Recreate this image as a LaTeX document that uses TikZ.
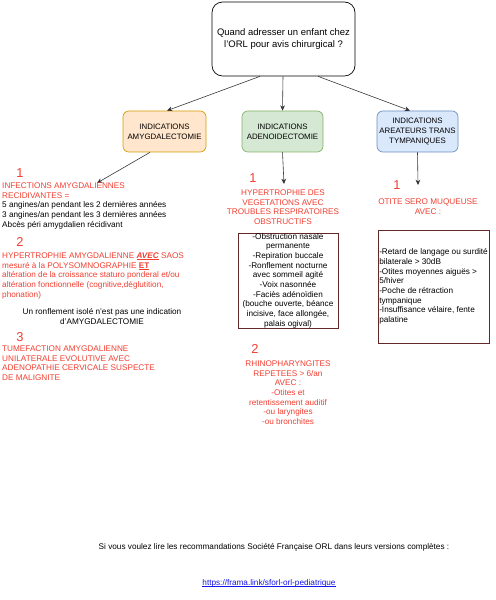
\documentclass[tikz,border=0pt]{standalone}
\usepackage{fontspec}
\setmainfont{Liberation Sans}
\usetikzlibrary{arrows.meta,calc}
\definecolor{rouge}{RGB}{242,62,48}
\definecolor{orfill}{RGB}{255,230,204}
\definecolor{ordraw}{RGB}{215,155,0}
\definecolor{vefill}{RGB}{213,232,212}
\definecolor{vedraw}{RGB}{130,179,102}
\definecolor{blfill}{RGB}{218,232,252}
\definecolor{bldraw}{RGB}{108,142,191}
\definecolor{cadre}{RGB}{100,40,40}
\definecolor{lien}{RGB}{20,20,230}
\newcommand\souligne[1]{\setbox0\hbox{#1}\rlap{\rule[-1.1pt]{\wd0}{0.4pt}}\box0\relax}
\tikzset{
  indic/.style={draw, rounded corners=5pt, line width=0.6pt, align=center,
    minimum width=2.43cm, minimum height=1.23cm, inner sep=1pt,
    font=\fontsize{6.7}{8.2}\selectfont},
  num/.style={text=rouge, inner sep=0pt, font=\fontsize{11}{11}\selectfont},
  txt/.style={inner sep=0pt, align=left, font=\fontsize{7}{8.25}\selectfont},
  fl/.style={-{Stealth[length=4.5pt,width=4pt]}, line width=0.5pt, black!80},
}
\begin{document}
\begin{tikzpicture}[x=0.03cm,y=-0.03cm]
\useasboundingbox (0,0) rectangle (495,600);
\node[draw, rounded corners=9pt, line width=0.6pt, minimum width=4.29cm,
  minimum height=2.22cm, align=center, font=\fontsize{8.1}{10}\selectfont]
  (q) at (283.5,39) {Quand adresser un enfant chez\\l'ORL pour avis chirurgical ?};
\node[indic, fill=orfill, draw=ordraw, minimum width=2.49cm] (amyg) at (164.5,131.5)
  {INDICATIONS\\AMYGDALECTOMIE};
\node[indic, fill=vefill, draw=vedraw] (adeno) at (282.5,131.5)
  {INDICATIONS\\ADENOIDECTOMIE};
\node[indic, fill=blfill, draw=bldraw] (aer) at (417.5,131.5)
  {INDICATIONS\\AREATEURS TRANS\\TYMPANIQUES};
\draw[fl] ($(q.south)+(-23.5,0)$) -- ($(amyg.north)+(2.5,0)$);
\draw[fl] ($(q.south)+(-0.5,0)$) -- (adeno.north);
\draw[fl] ($(q.south)+(34.5,0)$) -- ($(aer.north)+(-7.5,0)$);
% amygdalectomie
\coordinate (p1) at (97,183);
\draw[fl] ($(amyg.south)+(-14.5,0)$) -- (p1);
\node[num] (a1) at (20,173) {1};
\node[txt, anchor=north west] (infect) at (2,182.5)
  {\textcolor{rouge}{INFECTIONS AMYGDALIENNES}\\
   \textcolor{rouge}{RECIDIVANTES =}\\
   5 angines/an pendant les 2 dernières années\\
   3 angines/an pendant les 3 dernières années\\
   Abcès péri amygdalien récidivant};
\node[num] (a2) at (20,242) {2};
\node[txt, text=rouge, anchor=north west] (hyper) at (2,252.5)
  {HYPERTROPHIE AMYGDALIENNE \souligne{\textbf{\textit{AVEC}}} SAOS\\
   mesuré à la POLYSOMNOGRAPHIE \souligne{\textbf{ET}}\\
   altération de la croissance staturo ponderal et/ou\\
   altération fonctionnelle (cognitive,déglutition,\\
   phonation)};
\node[txt, align=center, anchor=north] (ronfl) at (102,308.5)
  {Un ronflement isolé n'est pas une indication\\d'AMYGDALECTOMIE};
\node[num] (a3) at (20,337) {3};
\node[txt, text=rouge, anchor=north west] (tumef) at (2,345.5)
  {TUMEFACTION AMYGDALIENNE\\
   UNILATERALE EVOLUTIVE AVEC\\
   ADENOPATHIE CERVICALE SUSPECTE\\
   DE MALIGNITE};
% adenoidectomie
\coordinate (p2) at (284,184);
\draw[fl] (adeno.south) -- (p2);
\node[num] (b1) at (253,178) {1};
\node[txt, text=rouge, align=center, anchor=north] (veget) at (283,189.5)
  {HYPERTROPHIE DES\\VEGETATIONS AVEC\\TROUBLES RESPIRATOIRES\\OBSTRUCTIFS};
\node[txt, draw=cadre, line width=0.6pt, align=center, minimum width=3cm,
  minimum height=2.85cm] (signes) at (288,280.5)
  {-Obstruction nasale\\permanente\\-Repiration buccale\\-Ronflement nocturne\\
   avec sommeil agité\\-Voix nasonnée\\-Faciès adénoïdien\\
   (bouche ouverte, béance\\incisive, face allongée,\\palais ogival)};
\node[num] (b2) at (255,349) {2};
\node[txt, text=rouge, align=center, anchor=north] (rhino) at (288,360.5)
  {RHINOPHARYNGITES\\REPETEES > 6/an\\AVEC :\\-Otites et\\
   retentissement auditif\\-ou laryngites\\-ou bronchites};
% aerateurs
\coordinate (p3) at (418,185);
\draw[fl] (aer.south) -- (p3);
\node[num] (c1) at (397,185) {1};
\node[txt, text=rouge, align=center, anchor=north] (otite) at (428,198.5)
  {OTITE SERO MUQUEUSE\\AVEC :};
\node[txt, draw=cadre, line width=0.6pt, minimum width=3.33cm, minimum height=3.39cm,
  inner xsep=0.5pt] (osm) at (433.5,286.5)
  {-Retard de langage ou surdité\\bilaterale > 30dB\\-Otites moyennes aiguës >\\
   5/hiver\\-Poche de rétraction\\tympanique\\-Insuffisance vélaire, fente\\palatine};
% recommandations
\node[txt] (reco) at (274,547)
  {Si vous voulez lire les recommandations Société Française ORL dans leurs versions complètes :};
\node[txt, text=lien] (url) at (269,583)
  {\souligne{https://frama.link/sforl-orl-pediatrique}};
\end{tikzpicture}
\end{document}
